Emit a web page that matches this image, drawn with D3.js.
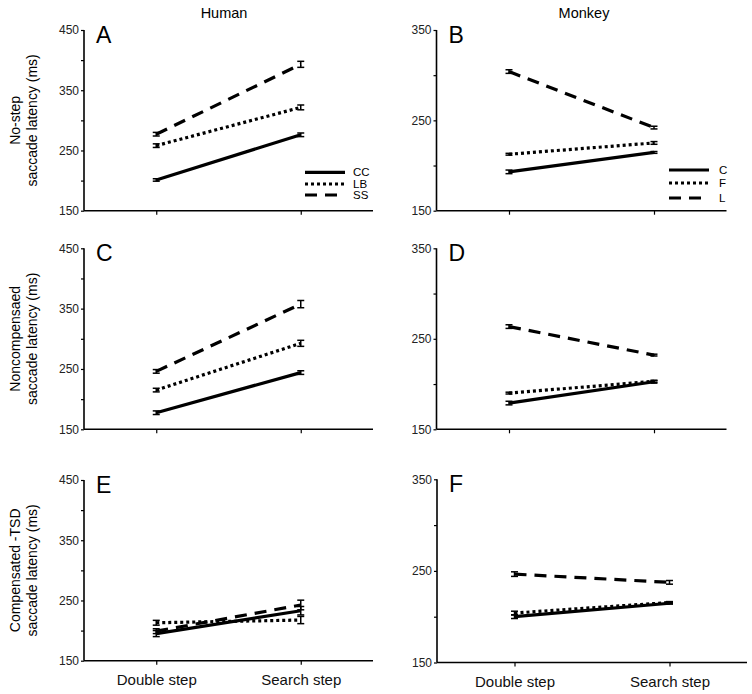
<!DOCTYPE html>
<html>
<head>
<meta charset="utf-8">
<script src="https://cdn.jsdelivr.net/npm/d3@7"></script>
<style>
  body { margin: 0; background: #fff; }
  svg { display: block; font-family: "Liberation Sans", Arial, sans-serif; }
  .tick-label { font-size: 12px; fill: #222; }
</style>
</head>
<body>
<div class="figure"></div>
<script>
// conditions on the x axis
var conditions = ['Double step', 'Search step']

var humanSubjects = ['CC', 'LB', 'SS']
var monkeySubjects = ['C', 'F', 'L']

var humanTicks = [150, 200, 250, 300, 350, 400, 450]
var monkeyTicks = [150, 200, 250, 300, 350]
var humanTickLabels = [150, 250, 350, 450]
var monkeyTickLabels = [150, 250, 350]

var columnTitles = ['Human', 'Monkey']
var panelLetters = ['A', 'B', 'C', 'D', 'E', 'F']

var rowTitles = [
   ['No-step', 'saccade latency (ms)'],
   ['Noncompensaed', 'saccade latency (ms)'],
   ['Compensated -TSD', 'saccade latency (ms)']
]

// mean latency (ms), one row per subject, [double step, search step]
var meansA = [[201, 276], [258, 321.5], [277, 393]]
var errorsA = [[2, 3], [3, 4], [3, 5]]

var meansB = [[193, 214.5], [212.5, 225], [304, 242]]
var errorsB = [[2, 1], [1, 1.5], [2, 1.5]]

var meansC = [[177.5, 244], [215, 292.5], [246, 357.5]]
var errorsC = [[3, 3], [3, 5], [3, 6]]

var meansD = [[179, 202.5], [190, 203], [263.5, 232]]
var errorsD = [[2, 1.5], [1, 1], [2, 1]]

var meansE = [[195, 233], [213, 217.5], [199, 242.5]]
var errorsE = [[5, 7], [4, 6], [4, 8]]

var meansF = [[200, 214.7], [204, 215.5], [246.5, 237.5]]
var errorsF = [[2, 1], [2, 1], [2.5, 2]]

// line style per subject index (solid, dotted, dashed)
var dashes = [null, '3,3', '12,8']

// where each panel sits on the page
var layout = [
   {left: 84, right: 373, top: 30, bottom: 210.7},
   {left: 436.5, right: 726.5, top: 30, bottom: 210.7},
   {left: 84, right: 373, top: 248.3, bottom: 429.3},
   {left: 436.5, right: 726.5, top: 248.3, bottom: 429.3},
   {left: 84, right: 373, top: 480, bottom: 660.7},
   {left: 437, right: 747, top: 479.3, bottom: 662.5}
]

var panels = [
   {means: meansA, errors: errorsA, human: true},
   {means: meansB, errors: errorsB, human: false},
   {means: meansC, errors: errorsC, human: true},
   {means: meansD, errors: errorsD, human: false},
   {means: meansE, errors: errorsE, human: true},
   {means: meansF, errors: errorsF, human: false}
]

var svg = d3.select('.figure')
            .append('svg')
            .attr('width', 752)
            .attr('height', 694)

// column titles
svg.append('text')
   .attr('x', 224).attr('y', 18)
   .attr('text-anchor', 'middle')
   .style('font-size', '14.5px')
   .text(columnTitles[0])

svg.append('text')
   .attr('x', 584).attr('y', 18)
   .attr('text-anchor', 'middle')
   .style('font-size', '14.5px')
   .text(columnTitles[1])

panels.forEach(function(p, i){
   var box = layout[i]
   var ticks = p.human ? humanTicks : monkeyTicks
   var labels = p.human ? humanTickLabels : monkeyTickLabels
   var subjects = p.human ? humanSubjects : monkeySubjects

   var yScale = d3.scaleLinear()
                  .domain([150, d3.max(ticks)])
                  .range([box.bottom, box.top])

   var xScale = d3.scalePoint()
                  .domain(conditions)
                  .range([box.left, box.right])
                  .padding(0.5)

   var g = svg.append('g').attr('class', 'panel')

   // y axis
   var yAxis = d3.axisLeft(yScale)
                 .tickValues(ticks)
                 .tickSize(3)
                 .tickFormat(function(d){ return labels.indexOf(d) > -1 ? d : '' })

   var ya = g.append('g')
      .attr('transform', 'translate(' + box.left + ',0)')
      .call(yAxis)
   ya.select('.domain').attr('d', 'M0,' + box.top + 'V' + box.bottom).style('stroke-width', 1.6)
   ya.selectAll('.tick line').style('stroke-width', 1.2)
   ya.selectAll('.tick text').attr('class', 'tick-label').attr('x', -5).attr('font-family', null).attr('font-size', null)

   // x axis
   var xAxis = d3.axisBottom(xScale)
                 .tickSize(4)
                 .tickFormat(function(d){ return i >= 4 ? d : '' })

   var xa = g.append('g')
      .attr('transform', 'translate(0,' + box.bottom + ')')
      .call(xAxis)
   xa.select('.domain').attr('d', 'M' + box.left + ',0H' + box.right).style('stroke-width', 1.6)
   xa.selectAll('.tick line').style('stroke-width', 1.2)
   xa.selectAll('.tick text')
     .attr('y', 13.5)
     .attr('font-family', null)
     .attr('font-size', null)
     .style('font-size', '15px')
     .style('fill', '#111')

   // panel letter
   g.append('text')
    .attr('x', box.left + 12)
    .attr('y', box.top + 13)
    .style('font-size', '23px')
    .text(panelLetters[i])

   // y title for left column
   if (p.human) {
      var row = Math.floor(i / 2)
      var cy = (box.top + box.bottom) / 2
      var t = g.append('text')
               .attr('transform', 'translate(20,' + cy + ') rotate(-90)')
               .attr('text-anchor', 'middle')
               .style('font-size', '14px')
      t.append('tspan').attr('x', 0).attr('dy', 0).text(rowTitles[row][0])
      t.append('tspan').attr('x', 0).attr('dy', 17).text(rowTitles[row][1])
   }

   var line = d3.line()
                .x(function(d, j){ return xScale(conditions[j]) })
                .y(function(d){ return yScale(d) })

   // error bars
   p.means.forEach(function(m, s){
      m.forEach(function(v, j){
         var e = p.errors[s][j]
         var x = xScale(conditions[j])
         var eb = g.append('g').attr('class', 'errbar')
         eb.append('line')
           .attr('x1', x).attr('x2', x)
           .attr('y1', yScale(v - e)).attr('y2', yScale(v + e))
         eb.append('line')
           .attr('x1', x - 3.5).attr('x2', x + 3.5)
           .attr('y1', yScale(v - e)).attr('y2', yScale(v - e))
         eb.append('line')
           .attr('x1', x - 3.5).attr('x2', x + 3.5)
           .attr('y1', yScale(v + e)).attr('y2', yScale(v + e))
         eb.selectAll('line').style('stroke', '#000').style('stroke-width', 1.5)
      })
   })

   // subject lines
   g.selectAll('.subject')
    .data(p.means)
    .enter()
    .append('path')
    .attr('class', 'subject')
    .attr('d', line)
    .style('fill', 'none')
    .style('stroke', '#000')
    .style('stroke-width', 3.2)
    .style('stroke-dasharray', function(d, s){ return dashes[s] })

   // legend in top row
   if (i < 2) {
      var lx = p.human ? 305 : 669
      var tx = p.human ? 353 : 719
      var ly = p.human ? [172.3, 184, 195] : [170, 183, 198]
      subjects.forEach(function(name, s){
         g.append('line')
          .attr('x1', lx).attr('x2', lx + 40)
          .attr('y1', ly[s]).attr('y2', ly[s])
          .style('stroke', '#000')
          .style('stroke-width', 3.2)
          .style('stroke-dasharray', dashes[s])
         g.append('text')
          .attr('x', tx).attr('y', ly[s] + 4)
          .style('font-size', '11.5px')
          .text(name)
      })
   }
})
</script>
</body>
</html>
